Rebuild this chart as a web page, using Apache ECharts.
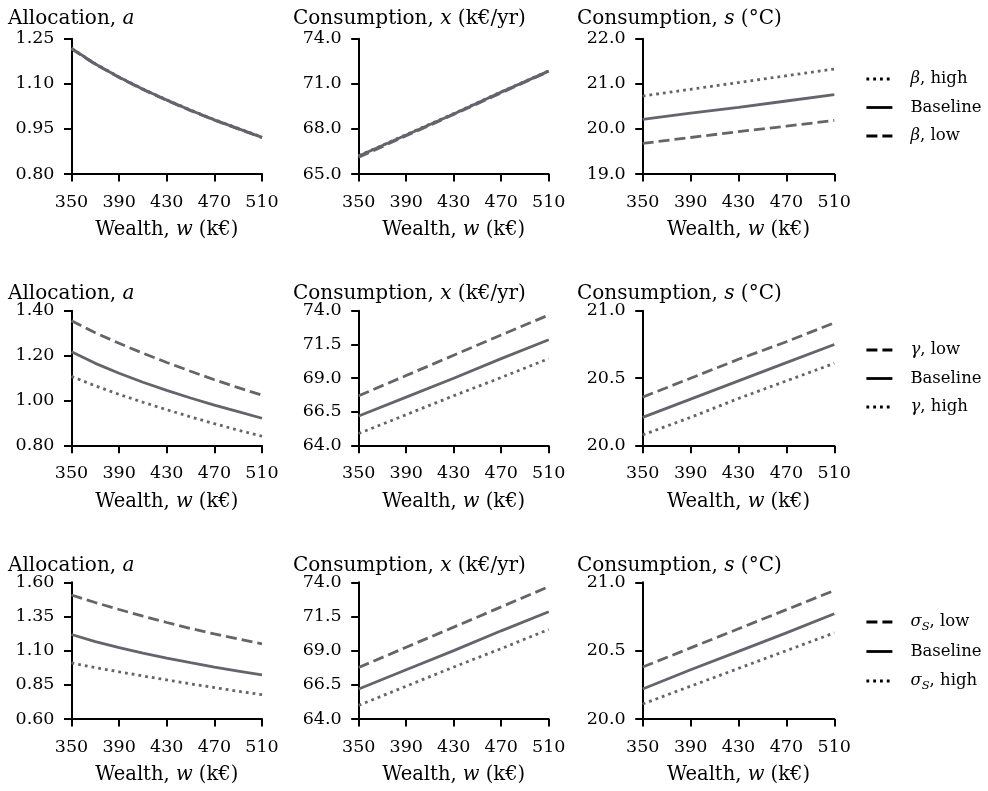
<!DOCTYPE html>
<html>
<head>
<meta charset="utf-8">
<script src="https://cdn.jsdelivr.net/npm/echarts@6/dist/echarts.min.js"></script>
<style>
  html, body { margin: 0; padding: 0; background: #fff; }
  #chart { width: 988px; height: 791px; }
</style>
</head>
<body>
<div id="chart"></div>
<script>
// Wealth grids (k€)
const wealthFine = [350, 370, 390, 410, 430, 450, 470, 490, 510];
const wealthCoarse = [350, 390, 430, 470, 510];

// Allocation a (baseline shared by all rows)
const allocBaseline = [1.218, 1.166, 1.122, 1.082, 1.046, 1.012, 0.980, 0.951, 0.922];
const allocBetaHigh = [1.219, 1.167, 1.123, 1.083, 1.047, 1.013, 0.981, 0.952, 0.923];
const allocBetaLow  = [1.217, 1.165, 1.121, 1.081, 1.045, 1.011, 0.979, 0.950, 0.921];
const allocGammaLow  = [1.355, 1.302, 1.255, 1.211, 1.170, 1.131, 1.093, 1.058, 1.025];
const allocGammaHigh = [1.108, 1.066, 1.028, 0.993, 0.960, 0.928, 0.898, 0.869, 0.842];
const allocSigmaLow  = [1.507, 1.452, 1.401, 1.352, 1.306, 1.262, 1.222, 1.185, 1.149];
const allocSigmaHigh = [1.010, 0.976, 0.945, 0.915, 0.886, 0.857, 0.830, 0.803, 0.778];

// Consumption x (k€/yr)
const consXBaseline  = [66.20, 67.60, 69.00, 70.45, 71.85];
const consXBetaHigh  = [66.22, 67.62, 69.02, 70.47, 71.87];
const consXBetaLow   = [66.12, 67.54, 68.96, 70.40, 71.83];
const consXGammaLow  = [67.70, 69.20, 70.70, 72.20, 73.68];
const consXGammaHigh = [64.90, 66.30, 67.70, 69.05, 70.45];
const consXSigmaLow  = [67.77, 69.25, 70.72, 72.20, 73.68];
const consXSigmaHigh = [65.00, 66.40, 67.80, 69.15, 70.55];

// Consumption s (°C)
const consSBetaHigh  = [20.73, 20.88, 21.03, 21.18, 21.33];
const consSBaseline1 = [20.21, 20.35, 20.48, 20.62, 20.76];
const consSBetaLow   = [19.68, 19.81, 19.94, 20.06, 20.19];
const consSGammaLow  = [20.36, 20.50, 20.64, 20.77, 20.91];
const consSBaseline2 = [20.21, 20.345, 20.48, 20.615, 20.75];
const consSGammaHigh = [20.08, 20.21, 20.35, 20.48, 20.61];
const consSSigmaLow  = [20.38, 20.52, 20.66, 20.80, 20.94];
const consSBaseline3 = [20.22, 20.36, 20.495, 20.63, 20.77];
const consSSigmaHigh = [20.11, 20.24, 20.37, 20.50, 20.63];

// Tick settings per panel: [min, max, interval, decimals]
const xTicks = [350, 510, 40];
const yTicksRows = [
  [[0.80, 1.25, 0.15, 2], [65, 74, 3, 1], [19, 22, 1, 1]],
  [[0.80, 1.40, 0.20, 2], [64, 74, 2.5, 1], [20, 21, 0.5, 1]],
  [[0.60, 1.60, 0.25, 2], [64, 74, 2.5, 1], [20, 21, 0.5, 1]]
];

// Legend entries per row (top to bottom)
const legendRows = [
  ['β, high', 'Baseline', 'β, low'],
  ['γ, low', 'Baseline', 'γ, high'],
  ['σS, low', 'Baseline', 'σS, high']
];

const FONT = 'DejaVu Serif';
const LINE = '#65646d';
const DOTTED = [2.8, 4];
const DASHED = [11, 5];

const colLeft = [71.5, 358.7, 642.7];
const colWidth = [190.5, 190, 191.6];
const rowTop = [38.8, 310.7, 582.3];
const rowHeight = [135.2, 135, 136.7];
const titleTop = [9, 284, 556];
const titleTexts = [
  '{r|Allocation, }{i|a}',
  '{r|Consumption, }{i|x}{r| (k€/yr)}',
  '{r|Consumption, }{i|s}{r| (°C)}'
];

const richText = (size) => ({
  r: { fontFamily: FONT, fontSize: size, fontWeight: 'normal', color: '#000' },
  i: { fontFamily: FONT, fontSize: size, fontWeight: 'normal', fontStyle: 'italic', color: '#000' },
  sub: { fontFamily: FONT, fontSize: size * 0.7, fontWeight: 'normal', fontStyle: 'italic', color: '#000', verticalAlign: 'bottom', lineHeight: 22 }
});

const grids = [], xAxes = [], yAxes = [], titles = [];
for (let r = 0; r < 3; r++) {
  for (let c = 0; c < 3; c++) {
    const idx = r * 3 + c;
    grids.push({ left: colLeft[c], top: rowTop[r], width: colWidth[c], height: rowHeight[r], containLabel: false });
    xAxes.push({
      type: 'value', gridIndex: idx,
      min: xTicks[0], max: xTicks[1], interval: xTicks[2],
      name: '{r|Wealth, }{i|w}{r| (k€)}',
      nameLocation: 'middle', nameGap: 46,
      nameTextStyle: { rich: richText(19.5) },
      axisLine: { lineStyle: { color: '#000', width: 2 } },
      axisTick: { length: 7.5, lineStyle: { color: '#000', width: 2 } },
      axisLabel: { margin: 19, fontFamily: FONT, fontSize: 17.5, color: '#000' },
      splitLine: { show: false }
    });
    const yt = yTicksRows[r][c];
    yAxes.push({
      type: 'value', gridIndex: idx,
      min: yt[0], max: yt[1], interval: yt[2],
      axisLine: { show: true, lineStyle: { color: '#000', width: 2 } },
      axisTick: { show: true, length: 7.5, lineStyle: { color: '#000', width: 2 } },
      axisLabel: { margin: 17, fontFamily: FONT, fontSize: 17.5, color: '#000',
                   formatter: (v) => v.toFixed(yt[3]) },
      splitLine: { show: false }
    });
    titles.push({
      text: titleTexts[c],
      left: colLeft[c] - (c === 0 ? 63.5 : 65.7),
      top: titleTop[r],
      padding: 0,
      textStyle: { fontWeight: 'normal', rich: richText(20) }
    });
  }
}

function pairs(xs, ys) { return xs.map((x, k) => [x, ys[k]]); }

function line(name, idx, xs, ys, dash) {
  return {
    type: 'line', name: name,
    xAxisIndex: idx, yAxisIndex: idx,
    data: pairs(xs, ys),
    symbol: 'none', smooth: false,
    lineStyle: { color: LINE, width: 2.8, type: dash || 'solid', cap: 'butt' },
    itemStyle: { color: LINE },
    z: dash ? 3 : 2
  };
}

const series = [
  // Row 1: β sensitivity
  line('β, high', 0, wealthFine, allocBetaHigh, DOTTED),
  line('Baseline', 0, wealthFine, allocBaseline),
  line('β, low', 0, wealthFine, allocBetaLow, DASHED),
  line('β, high', 1, wealthCoarse, consXBetaHigh, DOTTED),
  line('Baseline', 1, wealthCoarse, consXBaseline),
  line('β, low', 1, wealthCoarse, consXBetaLow, DASHED),
  line('β, high', 2, wealthCoarse, consSBetaHigh, DOTTED),
  line('Baseline', 2, wealthCoarse, consSBaseline1),
  line('β, low', 2, wealthCoarse, consSBetaLow, DASHED),
  // Row 2: γ sensitivity
  line('γ, low', 3, wealthFine, allocGammaLow, DASHED),
  line('Baseline', 3, wealthFine, allocBaseline),
  line('γ, high', 3, wealthFine, allocGammaHigh, DOTTED),
  line('γ, low', 4, wealthCoarse, consXGammaLow, DASHED),
  line('Baseline', 4, wealthCoarse, consXBaseline),
  line('γ, high', 4, wealthCoarse, consXGammaHigh, DOTTED),
  line('γ, low', 5, wealthCoarse, consSGammaLow, DASHED),
  line('Baseline', 5, wealthCoarse, consSBaseline2),
  line('γ, high', 5, wealthCoarse, consSGammaHigh, DOTTED),
  // Row 3: σS sensitivity
  line('σS, low', 6, wealthFine, allocSigmaLow, DASHED),
  line('Baseline', 6, wealthFine, allocBaseline),
  line('σS, high', 6, wealthFine, allocSigmaHigh, DOTTED),
  line('σS, low', 7, wealthCoarse, consXSigmaLow, DASHED),
  line('Baseline', 7, wealthCoarse, consXBaseline),
  line('σS, high', 7, wealthCoarse, consXSigmaHigh, DOTTED),
  line('σS, low', 8, wealthCoarse, consSSigmaLow, DASHED),
  line('Baseline', 8, wealthCoarse, consSBaseline3),
  line('σS, high', 8, wealthCoarse, consSSigmaHigh, DOTTED)
];

function legendLabel(name) {
  if (name === 'Baseline') return '{r|Baseline}';
  const parts = name.split(', ');
  const sym = parts[0];
  const head = sym.length > 1 ? '{i|' + sym[0] + '}{sub|' + sym.slice(1) + '}' : '{i|' + sym + '}';
  return head + '{r|, ' + parts[1] + '}';
}

const legendTops = [69, 340, 611];
const legends = legendRows.map((items, r) => ({
  orient: 'vertical',
  left: 865, top: legendTops[r],
  padding: 0,
  itemWidth: 26, itemHeight: 20, itemGap: 8.5,
  data: items,
  selectedMode: false,
  formatter: legendLabel,
  lineStyle: { color: '#000', width: 2.8 },
  itemStyle: { color: 'rgba(0,0,0,0)', opacity: 0, borderWidth: 0 },
  textStyle: { padding: [0, 0, 0, 13], lineHeight: 20, rich: richText(16.5) }
}));

const chart = echarts.init(document.getElementById('chart'), null, { renderer: 'canvas' });
chart.setOption({
  animation: false,
  backgroundColor: '#fff',
  title: titles,
  legend: legends,
  grid: grids,
  xAxis: xAxes,
  yAxis: yAxes,
  series: series
});
</script>
</body>
</html>
